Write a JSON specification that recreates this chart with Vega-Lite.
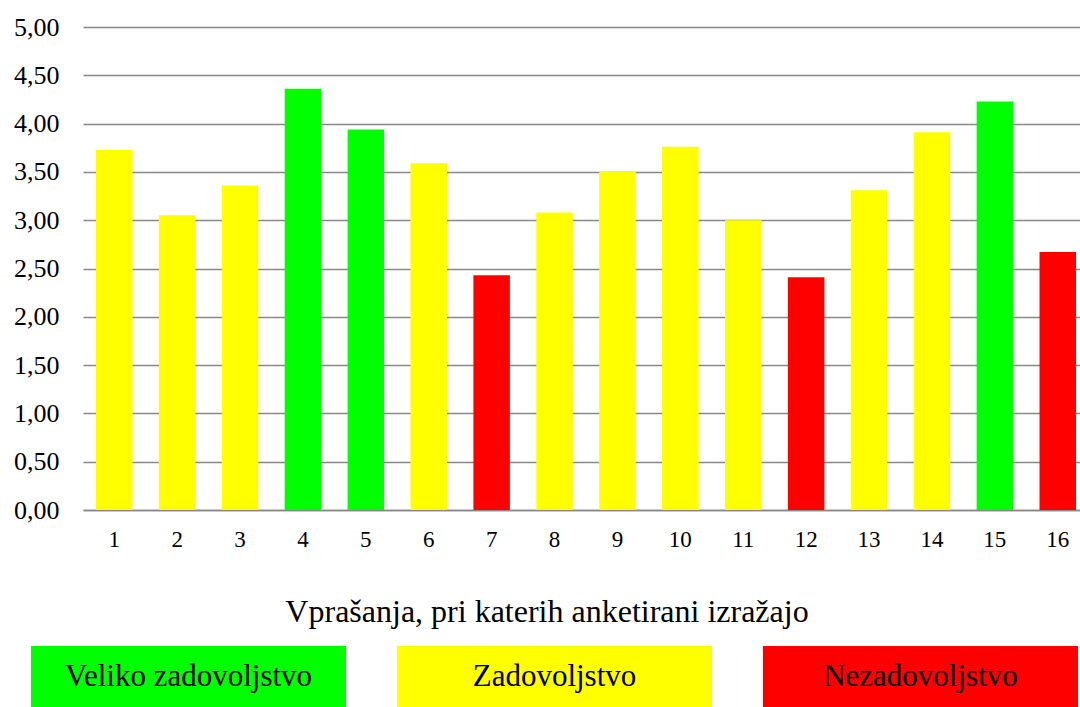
{
  "$schema": "https://vega.github.io/schema/vega-lite/v6.json",
  "padding": {"left": 13, "top": 14, "right": 0, "bottom": 0},
  "spacing": 44,
  "config": {
    "view": {"stroke": null},
    "font": "Liberation Serif"
  },
  "datasets": {
    "bars": [
      {"q": "1", "v": 3.73, "cat": "Zadovoljstvo"},
      {"q": "2", "v": 3.05, "cat": "Zadovoljstvo"},
      {"q": "3", "v": 3.36, "cat": "Zadovoljstvo"},
      {"q": "4", "v": 4.36, "cat": "Veliko zadovoljstvo"},
      {"q": "5", "v": 3.94, "cat": "Veliko zadovoljstvo"},
      {"q": "6", "v": 3.59, "cat": "Zadovoljstvo"},
      {"q": "7", "v": 2.43, "cat": "Nezadovoljstvo"},
      {"q": "8", "v": 3.08, "cat": "Zadovoljstvo"},
      {"q": "9", "v": 3.50, "cat": "Zadovoljstvo"},
      {"q": "10", "v": 3.76, "cat": "Zadovoljstvo"},
      {"q": "11", "v": 3.00, "cat": "Zadovoljstvo"},
      {"q": "12", "v": 2.41, "cat": "Nezadovoljstvo"},
      {"q": "13", "v": 3.31, "cat": "Zadovoljstvo"},
      {"q": "14", "v": 3.91, "cat": "Zadovoljstvo"},
      {"q": "15", "v": 4.23, "cat": "Veliko zadovoljstvo"},
      {"q": "16", "v": 2.67, "cat": "Nezadovoljstvo"}
    ],
    "legend": [
      {"cat": "Veliko zadovoljstvo"},
      {"cat": "Zadovoljstvo"},
      {"cat": "Nezadovoljstvo"}
    ]
  },
  "vconcat": [
    {
      "spacing": 24,
      "hconcat": [
        {
          "width": 0,
          "height": 483,
          "data": {"name": "bars"},
          "mark": {"type": "rule", "strokeOpacity": 0},
          "encoding": {
            "y": {
              "field": "v",
              "type": "quantitative",
              "scale": {"domain": [0, 5], "nice": false},
              "axis": {
                "orient": "right",
                "title": null,
                "values": [0, 0.5, 1, 1.5, 2, 2.5, 3, 3.5, 4, 4.5, 5],
                "labelExpr": "replace(format(datum.value, '.2f'), '.', ',')",
                "labelFont": "Liberation Serif",
                "labelFontSize": 26,
                "labelColor": "#000000",
                "labelAlign": "right",
                "labelPadding": 26,
                "ticks": false,
                "domain": false,
                "grid": false
              }
            }
          }
        },
        {
          "width": 997,
          "height": 483,
          "data": {"name": "bars"},
          "mark": {"type": "bar"},
          "encoding": {
            "x": {
              "field": "q",
              "type": "ordinal",
              "sort": null,
              "scale": {"paddingInner": 0.42, "paddingOuter": 0.135, "align": 0.765},
              "axis": {
                "title": null,
                "labelFont": "Liberation Serif",
                "labelFontSize": 23,
                "labelColor": "#000000",
                "labelAngle": 0,
                "labelPadding": 18,
                "ticks": false,
                "domain": true,
                "domainColor": "#888888",
                "domainWidth": 1.5
              }
            },
            "y": {
              "field": "v",
              "type": "quantitative",
              "scale": {"domain": [0, 5], "nice": false},
              "axis": {
                "title": null,
                "values": [0, 0.5, 1, 1.5, 2, 2.5, 3, 3.5, 4, 4.5, 5],
                "labels": false,
                "ticks": false,
                "domain": false,
                "grid": true,
                "gridColor": "#888888",
                "gridWidth": 1.5,
                "gridOpacity": 1
              }
            },
            "color": {
              "field": "cat",
              "type": "nominal",
              "scale": {
                "domain": ["Veliko zadovoljstvo", "Zadovoljstvo", "Nezadovoljstvo"],
                "range": ["#00FF00", "#FFFF00", "#FF0000"]
              },
              "legend": null
            }
          }
        }
      ]
    },
    {
      "width": 1067,
      "height": 62,
      "data": {"name": "legend"},
      "encoding": {
        "x": {
          "field": "cat",
          "type": "nominal",
          "sort": null,
          "scale": {"paddingInner": 0.139, "paddingOuter": 0.0273, "align": 0.9},
          "axis": {
            "orient": "top",
            "title": "Vprašanja, pri katerih anketirani izražajo",
            "titleFont": "Liberation Serif",
            "titleFontSize": 32,
            "titleFontWeight": "normal",
            "titleColor": "#000000",
            "titlePadding": 18,
            "labels": false,
            "ticks": false,
            "domain": false,
            "grid": false
          }
        }
      },
      "layer": [
        {
          "mark": {"type": "bar"},
          "encoding": {
            "color": {
              "field": "cat",
              "type": "nominal",
              "scale": {
                "domain": ["Veliko zadovoljstvo", "Zadovoljstvo", "Nezadovoljstvo"],
                "range": ["#00FF00", "#FFFF00", "#FF0000"]
              },
              "legend": null
            }
          }
        },
        {
          "mark": {"type": "text", "font": "Liberation Serif", "fontSize": 31, "color": "#000000", "baseline": "middle", "align": "center"},
          "encoding": {
            "text": {"field": "cat", "type": "nominal"}
          }
        }
      ]
    }
  ]
}
